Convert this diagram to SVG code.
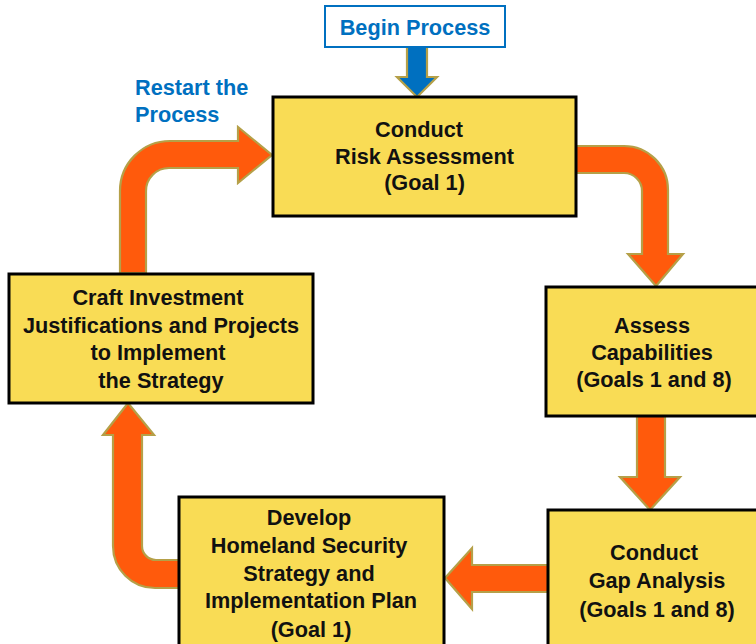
<svg xmlns="http://www.w3.org/2000/svg" width="756" height="644" viewBox="0 0 756 644">
<style>
.box{fill:#F9DC55;stroke:#000;stroke-width:3}
.arr{fill:#FF5A0C;stroke:#B5A048;stroke-width:2.2;stroke-linejoin:miter}
.blue{fill:#0070C0;stroke:#B5A048;stroke-width:2.2}
.t{font-family:"Liberation Sans",Arial,sans-serif;font-weight:bold;font-size:21.7px;fill:#111;text-anchor:middle}
.bt{font-family:"Liberation Sans",Arial,sans-serif;font-weight:bold;font-size:21.7px;fill:#0070C0}
</style>
<rect width="756" height="644" fill="#fff"/>
<g id="connectors">
<path class="blue" d="M407,47 L427,47 L427,77 L437,77 L417,97 L397,77 L407,77 Z"/>
<path class="arr" d="M576,146 L624,146 A44,44 0 0 1 668,190 L668,254 L683,254 L656,286 L628,254 L642,254 L642,191 A18,18 0 0 0 624,173 L576,173 Z"/>
<path class="arr" d="M637,416 L665,416 L665,477 L680,477 L650,510 L620,477 L637,477 Z"/>
<path class="arr" d="M548,565 L548,592 L472,592 L472,609 L445,578 L472,548 L472,565 Z"/>
<path class="arr" d="M179,560 L179,588 L155,588 A42,42 0 0 1 113,546 L113,435 L103,435 L128,403 L154,435 L142,435 L142,546 A14,14 0 0 0 156,560 Z"/>
<path class="arr" d="M120,273 L120,191 A50,50 0 0 1 170,141 L238,141 L238,127 L272,155 L238,183 L238,168 L169,168 A23,23 0 0 0 146,191 L146,273 Z"/>
</g>
<g id="begin">
<rect x="325" y="6" width="180" height="41" fill="#fff" stroke="#0070C0" stroke-width="2"/>
<text class="bt" x="415" y="35" text-anchor="middle">Begin Process</text>
</g>
<g id="restart">
<text class="bt" x="135" y="95">Restart the</text>
<text class="bt" x="135" y="122">Process</text>
</g>
<g id="risk">
<rect class="box" x="273" y="97" width="303" height="119"/>
<text class="t" x="419" y="137">Conduct</text>
<text class="t" x="424.5" y="164">Risk Assessment</text>
<text class="t" x="424.5" y="190">(Goal 1)</text>
</g>
<g id="assess">
<rect class="box" x="546" y="287" width="214" height="129"/>
<text class="t" x="652" y="333">Assess</text>
<text class="t" x="652" y="360">Capabilities</text>
<text class="t" x="654" y="387">(Goals 1 and 8)</text>
</g>
<g id="gap">
<rect class="box" x="548" y="510" width="212" height="140"/>
<text class="t" x="654" y="560">Conduct</text>
<text class="t" x="657" y="588">Gap Analysis</text>
<text class="t" x="657" y="617">(Goals 1 and 8)</text>
</g>
<g id="develop">
<rect class="box" x="179" y="497" width="265" height="153"/>
<text class="t" x="309" y="525">Develop</text>
<text class="t" x="309" y="553">Homeland Security</text>
<text class="t" x="309" y="581">Strategy and</text>
<text class="t" x="311" y="608">Implementation Plan</text>
<text class="t" x="311" y="637">(Goal 1)</text>
</g>
<g id="craft">
<rect class="box" x="9" y="274" width="304" height="129"/>
<text class="t" x="158" y="305">Craft Investment</text>
<text class="t" x="161" y="333">Justifications and Projects</text>
<text class="t" x="158" y="360">to Implement</text>
<text class="t" x="161" y="388">the Strategy</text>
</g>
</svg>
